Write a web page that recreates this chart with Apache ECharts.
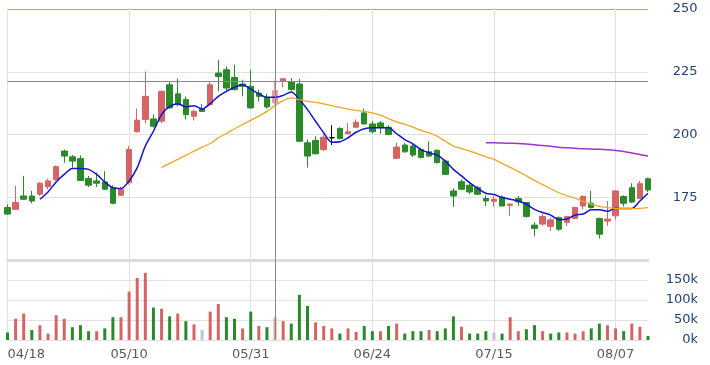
<!DOCTYPE html>
<html><head><meta charset="utf-8">
<script src="https://cdn.jsdelivr.net/npm/echarts@6/dist/echarts.min.js"></script>
<style>html,body{margin:0;padding:0;background:#fff}#c{width:710px;height:365px}</style>
</head><body><div id="c"></div>
<script>
const dates = ['04/18','04/19','04/22','04/23','04/24','04/25','04/26','04/29','04/30','05/01',
 '05/02','05/03','05/07','05/08','05/09','05/10','05/13','05/14','05/15','05/16',
 '05/17','05/20','05/21','05/22','05/23','05/24','05/27','05/28','05/29','05/30',
 '05/31','06/03','06/04','06/05','06/07','06/10','06/11','06/12','06/13','06/14',
 '06/17','06/18','06/19','06/20','06/21','06/24','06/25','06/26','06/27','06/28',
 '07/01','07/02','07/03','07/04','07/05','07/08','07/09','07/10','07/11','07/12',
 '07/15','07/16','07/18','07/19','07/22','07/23','07/25','07/26','07/29','07/30',
 '07/31','08/01','08/02','08/05','08/06','08/07','08/08','08/09','08/12','08/13'];

const opens = [170.9,170.2,175.5,175.5,176.2,179.2,182.1,193.4,191.1,190.4,
 182.5,181.5,181.1,178.8,175.8,180.8,201.1,206.0,206.2,205.3,
 219.8,216.2,213.9,207.3,210.2,211.9,224.5,225.8,222.7,220.1,
 219.2,216.5,214.6,212.6,221.2,220.9,220.1,196.7,197.6,194.0,
 198.7,202.4,200.3,202.9,208.6,204.2,204.6,202.9,190.5,195.8,
 195.4,194.0,193.1,193.7,189.4,177.5,181.2,179.8,178.8,174.5,
 173.4,175.1,171.8,174.5,172.9,163.9,164.3,163.4,166.9,165.0,
 166.5,171.5,172.6,166.5,165.5,167.6,175.3,178.8,174.5,182.4];
const closes = [168.3,172.9,174.2,173.5,180.6,181.5,187.2,191.4,189.4,181.7,
 179.8,180.6,178.2,172.6,178.2,194.0,205.7,215.2,203.3,217.2,
 210.6,211.9,207.9,209.2,209.2,219.8,223.1,218.5,217.9,219.2,
 210.6,215.2,211.0,217.5,222.2,217.9,197.3,191.4,192.3,198.9,
 198.7,198.4,201.1,204.9,204.2,201.1,202.7,200.0,195.0,193.1,
 191.8,190.8,191.4,188.8,184.1,175.5,178.2,177.1,176.2,173.5,
 174.2,171.5,172.3,173.1,167.3,162.6,167.3,166.0,162.3,167.3,
 170.9,175.3,170.9,160.3,166.3,177.5,172.6,173.1,180.4,177.9];
const lows = [168.0,170.0,174.0,172.6,175.5,178.2,181.5,188.8,186.8,181.5,
 179.1,179.1,177.9,172.2,175.5,180.0,200.7,204.6,202.7,204.6,
 210.3,211.2,206.0,205.6,209.0,211.5,217.2,217.2,217.5,215.2,
 210.3,213.2,210.3,211.9,218.8,217.5,197.1,186.8,192.1,193.4,
 195.8,198.0,200.0,202.7,204.0,200.3,200.3,199.7,190.5,192.7,
 191.0,190.5,191.0,188.4,183.9,171.2,177.8,176.2,175.8,171.5,
 171.2,171.5,167.6,171.5,166.9,159.4,163.6,161.6,161.6,163.6,
 166.3,170.1,170.5,158.6,163.6,166.0,171.3,172.6,174.2,177.1];
const highs = [172.2,179.5,183.5,177.5,181.1,182.4,187.7,194.0,191.8,191.7,
 183.5,184.8,185.4,179.8,179.2,195.4,210.3,225.1,208.0,217.5,
 220.9,222.2,215.2,209.9,212.2,220.9,229.8,227.1,227.8,221.8,
 225.8,217.9,216.2,221.4,222.5,222.5,222.2,198.0,199.3,200.0,
 203.7,202.9,204.6,206.0,210.3,205.3,205.3,203.7,196.7,196.7,
 196.3,194.7,197.3,194.0,190.0,178.6,182.1,180.6,179.5,175.8,
 175.5,175.8,172.3,175.5,173.1,165.0,168.3,166.9,167.3,167.6,
 171.3,175.8,177.5,166.9,173.5,177.9,175.8,180.6,181.5,182.8];

const ma5 = [null,null,null,null,
 174.2,177.1,181.1,184.1,186.5,186.5,186.1,184.1,181.1,178.8,178.5,181.5,186.8,195.4,201.3,207.9,
 211.2,212.3,211.0,211.5,210.2,212.3,215.2,217.2,218.8,219.8,218.1,216.2,214.8,214.8,215.6,216.9,
 213.9,209.9,205.3,200.7,196.9,197.1,198.7,200.9,202.3,202.7,202.7,202.7,200.3,198.0,196.3,194.0,
 192.7,191.8,189.4,186.1,183.5,180.8,178.5,176.6,176.1,174.9,174.2,173.5,172.2,170.2,168.9,167.9,
 166.0,166.3,167.9,168.3,170.0,170.0,169.4,170.6,170.5,170.5,173.5,176.6];
const ma20 = [null,null,null,null,null,null,null,null,null,null,
 null,null,null,null,null,null,null,null,null,
 186.8,188.5,190.1,191.7,193.4,195.0,196.4,198.7,200.4,202.3,204.0,
 205.6,207.3,209.2,211.6,213.5,214.6,213.9,213.2,212.8,212.2,
 211.5,210.8,210.1,209.6,209.2,208.6,207.7,206.3,205.0,204.0,
 202.9,201.6,200.7,199.3,197.3,195.4,194.4,193.4,192.3,191.1,
 190.1,188.5,186.9,185.3,183.5,181.7,180.0,178.4,176.8,175.6,
 174.6,173.4,172.2,171.4,170.9,170.6,170.5,170.5,170.6,170.9];
const ma60Start = 59;
const ma60Values = [196.7,196.7,196.6,196.5,196.4,196.2,195.9,195.6,195.3,194.9,
 194.7,194.5,194.3,194.2,194.1,193.9,193.6,193.2,192.6,192.0,191.4];

const volumes = [19000,53000,66000,25000,37000,16000,62000,53000,32000,37000,
 22000,22000,29000,57000,57000,121000,155000,168000,81000,78000,
 59000,66000,47000,39000,25000,71000,90000,57000,53000,29000,
 71000,35000,32000,57000,47000,41000,113000,85000,44000,35000,
 29000,16000,29000,20000,35000,22000,22000,35000,41000,16000,
 22000,22000,25000,22000,29000,59000,33000,16000,16000,22000,
 19000,16000,57000,22000,27000,37000,22000,16000,19000,19000,
 16000,22000,29000,41000,37000,29000,22000,41000,33000,10000];
// 1 = up (red), -1 = down (green), 0 = unchanged (grey)
const volDir = [-1,1,1,-1,1,1,1,1,-1,-1,
 -1,1,-1,-1,1,1,1,1,-1,1,
 -1,1,-1,1,0,1,1,-1,-1,1,
 -1,1,-1,1,1,-1,-1,-1,1,1,
 1,-1,1,1,-1,-1,1,-1,1,-1,
 -1,-1,1,-1,-1,-1,1,-1,-1,-1,
 0,-1,1,1,-1,-1,1,-1,-1,1,
 1,1,-1,-1,1,1,-1,1,1,-1];

const priceTicks = [150,175,200,225,250];
const volTicks = [0,50000,100000,150000,200000];
const labelEvery = 15;
const crossIndex = 33;
const crossValue = 221.2;
const dojiIndex = 40;

const RED = '#d56565', GREEN = '#2a8a2a', GREY = '#c3c6cc', HILITE = '#e99a9a';
const FONT = 'DejaVu Sans';

const ma60 = dates.map((d, i) => i >= ma60Start ? ma60Values[i - ma60Start] : null);

const candleData = dates.map((d, i) => {
  const item = { value: [opens[i], closes[i], lows[i], highs[i]] };
  if (i === dojiIndex) item.itemStyle = { color: '#000', color0: '#000', borderColor: '#000', borderColor0: '#000', borderColorDoji: '#000' };
  if (i === crossIndex) item.itemStyle = { color: HILITE, borderColor: HILITE };
  return item;
});
const volData = volumes.map((v, i) => {
  let c = volDir[i] > 0 ? RED : (volDir[i] < 0 ? GREEN : GREY);
  if (i === crossIndex) c = HILITE;
  return { value: v, itemStyle: { color: c } };
});

const crossLine = { color: '#8a8a8a', width: 1, type: 'solid' };
const chart = echarts.init(document.getElementById('c'), null, { renderer: 'canvas' });
const L = 7.5, R = 62;
chart.setOption({
  animation: false,
  backgroundColor: '#ffffff',
  grid: [
    { left: L, right: R, top: 9, height: 251, containLabel: false, outerBoundsMode: 'none' },
    { left: L, right: R, top: 260, height: 80, containLabel: false, outerBoundsMode: 'none' }
  ],
  xAxis: [
    { type: 'category', gridIndex: 0, data: dates, boundaryGap: false,
      axisLine: { show: true, onZero: false, lineStyle: { color: '#dcdcdc', width: 3 } },
      axisTick: { show: false }, axisLabel: { show: false },
      splitLine: { show: true, interval: labelEvery - 1, lineStyle: { color: '#e2e2e2', width: 1 } } },
    { type: 'category', gridIndex: 1, data: dates, boundaryGap: false,
      axisLine: { show: false }, axisTick: { show: false },
      axisLabel: { interval: labelEvery - 1, color: '#5a5a5a', fontFamily: FONT, fontSize: 13, margin: 8, alignMinLabel: 'left' },
      splitLine: { show: true, interval: labelEvery - 1, lineStyle: { color: '#e2e2e2', width: 1 } } }
  ],
  yAxis: [
    { type: 'value', gridIndex: 0, position: 'right', min: priceTicks[0], max: priceTicks[priceTicks.length - 1],
      interval: priceTicks[1] - priceTicks[0], scale: false,
      axisLine: { show: false }, axisTick: { show: false },
      axisLabel: { showMinLabel: false, color: '#24427a', fontFamily: FONT, fontSize: 13, align: 'right', margin: 49.5 },
      splitLine: { show: true, lineStyle: { color: ['#dcdcdc', '#e2e2e2', '#e2e2e2', '#e2e2e2', '#b9a582'], width: 1 } } },
    { type: 'value', gridIndex: 1, position: 'right', min: volTicks[0], max: volTicks[volTicks.length - 1],
      interval: volTicks[1] - volTicks[0],
      axisLine: { show: false }, axisTick: { show: false },
      axisLabel: { showMaxLabel: false, color: '#24427a', fontFamily: FONT, fontSize: 13, align: 'right', margin: 50,
        formatter: v => (v / 1000) + 'k' },
      splitLine: { show: true, lineStyle: { color: '#e2e2e2', width: 1 } } }
  ],
  series: [
    { type: 'candlestick', name: 'price', xAxisIndex: 0, yAxisIndex: 0, data: candleData, barWidth: 6, clip: false,
      itemStyle: { color: RED, color0: GREEN, borderColor: RED, borderColor0: GREEN, borderColorDoji: '#000', borderWidth: 1 },
      markLine: { silent: true, symbol: ['none', 'none'], label: { show: false }, animation: false,
        lineStyle: crossLine, emphasis: { disabled: true },
        data: [{ xAxis: dates[crossIndex] }, { yAxis: crossValue }] } },
    { type: 'line', name: 'MA5', xAxisIndex: 0, yAxisIndex: 0, data: ma5, smooth: 0.3, symbol: 'none', showSymbol: false,
      lineStyle: { color: '#1414c8', width: 1.5 }, z: 3 },
    { type: 'line', name: 'MA20', xAxisIndex: 0, yAxisIndex: 0, data: ma20, smooth: 0.3, symbol: 'none', showSymbol: false,
      lineStyle: { color: '#f2a527', width: 1.3 }, z: 3 },
    { type: 'line', name: 'MA60', xAxisIndex: 0, yAxisIndex: 0, data: ma60, smooth: 0.3, symbol: 'none', showSymbol: false,
      lineStyle: { color: '#9b35cf', width: 1.5 }, z: 3 },
    { type: 'bar', name: 'volume', xAxisIndex: 1, yAxisIndex: 1, data: volData, barWidth: 3, clip: false,
      markLine: { silent: true, symbol: ['none', 'none'], label: { show: false }, animation: false,
        lineStyle: crossLine, emphasis: { disabled: true },
        data: [{ xAxis: dates[crossIndex] }] } }
  ]
});
</script>
</body></html>
